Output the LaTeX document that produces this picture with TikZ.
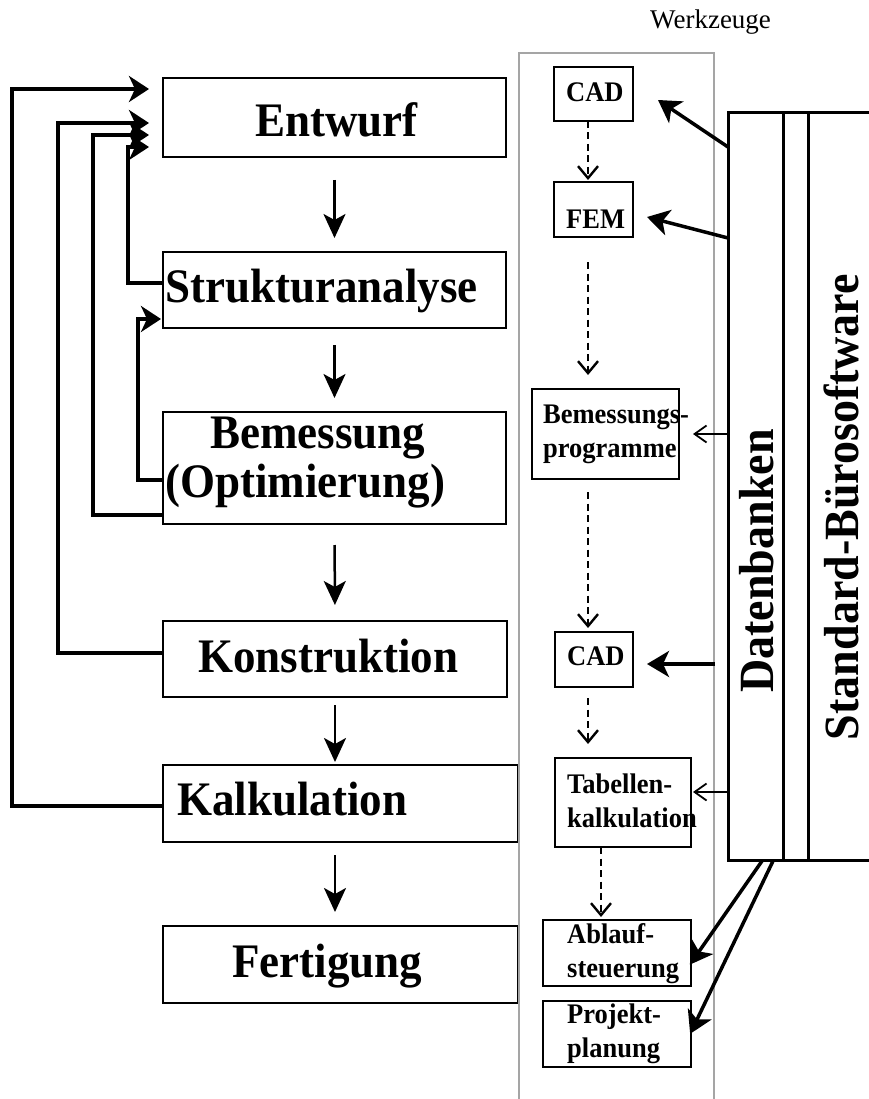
\documentclass[tikz,border=0pt]{standalone}
\usepackage{fontspec}
\setmainfont{Liberation Serif}
\usetikzlibrary{arrows.meta}
\definecolor{toolgray}{RGB}{165,165,165}
% slightly taller lettering
\newcommand{\tallbox}[1]{\scalebox{1}[1.07]{#1}}

\begin{document}
\begin{tikzpicture}[x=1pt, y=-1pt,
  stepbox/.style={draw=black, line width=1.3pt, inner sep=0pt, outer sep=0pt},
  toolbox/.style={draw=black, line width=1.3pt, inner sep=0pt, outer sep=0pt},
  dbbox/.style={draw=black, line width=3pt, inner sep=0pt, outer sep=0pt},
  bigtext/.style={font=\fontsize{45}{54}\selectfont\bfseries, inner sep=0pt, anchor=base west},
  smalltext/.style={font=\fontsize{26.5}{32}\selectfont\bfseries, inner sep=0pt, anchor=base west},
  sidetext/.style={font=\fontsize{46}{55}\selectfont\bfseries, inner sep=0pt, rotate=90, anchor=base},
  fb/.style={line width=4pt, -{Stealth[length=20pt, width=26pt, inset=6pt]}},
  downarrow/.style={line width=2.5pt, -{Stealth[length=24pt, width=22pt, inset=6pt]}},
  dasharrow/.style={line width=2.4pt, dash pattern=on 7pt off 4.5pt, -{Straight Barb[length=12pt, width=20pt, line width=2.4pt]}},
  thinarrow/.style={line width=1.4pt, -{Straight Barb[length=12pt, width=17pt, line width=1.8pt]}},
  thickarrow/.style={line width=3.5pt, -{Stealth[length=22pt, width=26pt, inset=6pt]}}]

\useasboundingbox (0,0) rectangle (869,1099);
\clip (0,0) rectangle (869,1099);

% process chain
\node[stepbox, minimum width=343pt, minimum height=79pt]  (entwurf) at (334.5,117.5) {};
\node[stepbox, minimum width=343pt, minimum height=76pt]  (struk)   at (334.5,290) {};
\node[stepbox, minimum width=343pt, minimum height=112pt] (bem)     at (334.5,468) {};
\node[stepbox, minimum width=344pt, minimum height=76pt]  (konstr)  at (335,659) {};
\node[stepbox, minimum width=355pt, minimum height=77pt]  (kalk)    at (340.5,803.5) {};
\node[stepbox, minimum width=355pt, minimum height=77pt]  (fert)    at (340.5,964.5) {};

\node[bigtext] (t-entwurf) at (255,137) {\tallbox{Entwurf}};
\node[bigtext] (t-struk)   at (165,302) {\tallbox{Strukturanalyse}};
\node[bigtext] (t-bem1)    at (210,448) {\tallbox{Bemessung}};
\node[bigtext] (t-bem2)    at (165,497) {\tallbox{(Optimierung)}};
\node[bigtext] (t-konstr)  at (198,672) {\tallbox{Konstruktion}};
\node[bigtext] (t-kalk)    at (177,815) {\tallbox{Kalkulation}};
\node[bigtext] (t-fert)    at (232,977) {\tallbox{Fertigung}};

% tool column
\node[draw=toolgray, line width=1.3pt, inner sep=0pt, minimum width=195pt, minimum height=1057pt] (tools) at (616.5,581.5) {};
\node[font=\fontsize{27}{32}\selectfont, inner sep=0pt, anchor=base west] (werkzeuge) at (650,29) {Werkzeuge};

\node[toolbox, minimum width=79pt,  minimum height=54pt] (cad1)    at (593.5,94) {};
\node[toolbox, minimum width=79pt,  minimum height=55pt] (fem)     at (593.5,209.5) {};
\node[toolbox, minimum width=147pt, minimum height=90pt] (bemprog) at (605.5,434) {};
\node[toolbox, minimum width=78pt,  minimum height=55pt] (cad2)    at (594,659.5) {};
\node[toolbox, minimum width=136pt, minimum height=89pt] (tab)     at (623,802.5) {};
\node[toolbox, minimum width=148pt, minimum height=66pt] (ablauf)  at (617,953) {};
\node[toolbox, minimum width=148pt, minimum height=66pt] (projekt) at (617,1034) {};

\node[smalltext] (t-cad1)  at (566,102) {\tallbox{CAD}};
\node[smalltext] (t-fem)   at (566,229) {\tallbox{FEM}};
\node[smalltext] (t-bp1)   at (543,423) {\tallbox{Bemessungs-}};
\node[smalltext] (t-bp2)   at (543,457) {\tallbox{programme}};
\node[smalltext] (t-cad2)  at (567,665) {\tallbox{CAD}};
\node[smalltext] (t-tab1)  at (567,793) {\tallbox{Tabellen-}};
\node[smalltext] (t-tab2)  at (567,827) {\tallbox{kalkulation}};
\node[smalltext] (t-abl1)  at (567,943) {\tallbox{Ablauf-}};
\node[smalltext] (t-abl2)  at (567,977) {\tallbox{steuerung}};
\node[smalltext] (t-proj1) at (567,1023) {\tallbox{Projekt-}};
\node[smalltext] (t-proj2) at (567,1057) {\tallbox{planung}};

% data bases and office software
\node[dbbox, minimum width=55pt, minimum height=747pt] (db) at (755.5,486.5) {};
\node[dbbox, minimum width=72pt, minimum height=747pt] (sb) at (844,486.5) {};
\draw[line width=3pt] (db.north east) -- (sb.north west);
\draw[line width=3pt] (db.south east) -- (sb.south west);
\node[sidetext] (t-db) at (773,561) {\tallbox{Datenbanken}};
\node[sidetext] (t-sb) at (858,507) {\tallbox{Standard-Bürosoftware}};

% feedback loops back to the design stage
\draw[fb, shorten >=14pt] (kalk.west |- 0,806) -| (12,89) -- (entwurf.west |- 0,89);
\draw[fb, shorten >=14pt] (konstr.west |- 0,653) -| (58,123) -- (entwurf.west |- 0,123);
\draw[fb, shorten >=14pt] (bem.west |- 0,515) -| (93,135) -- (entwurf.west |- 0,135);
\draw[fb, shorten >=14pt] (struk.west |- 0,283) -| (128,147) -- (entwurf.west |- 0,147);
\draw[fb, shorten >=2pt] (bem.west |- 0,480) -| (138,319) -- (struk.west |- 0,319);

% main sequence
\draw[downarrow, shorten <=23pt, shorten >=14pt] (entwurf.south) -- (struk.north);
\draw[downarrow, shorten <=17pt, shorten >=14pt] (struk.south) -- (bem.north);
\draw[downarrow, shorten <=21pt, shorten >=16pt] (bem.south) -- (konstr.north);
\draw[downarrow, shorten <=8pt, shorten >=3pt] (konstr.south) -- (konstr.south |- kalk.north);
\draw[downarrow, shorten <=13pt, shorten >=14pt] (kalk.south -| konstr.south) -- (konstr.south |- fert.north);

% tool sequence
\coordinate (dx) at (588,0);
\coordinate (dx2) at (601,0);
\draw[dasharrow, shorten >=2pt] (cad1.south -| dx) -- (fem.north -| dx);
\draw[dasharrow, shorten <=25pt, shorten >=14pt] (fem.south -| dx) -- (bemprog.north -| dx);
\draw[dasharrow, shorten <=13pt, shorten >=4pt] (bemprog.south -| dx) -- (cad2.north -| dx);
\draw[dasharrow, shorten <=11pt, shorten >=14pt] (cad2.south -| dx) -- (tab.north -| dx);
\draw[dasharrow, shorten >=3pt] (tab.south -| dx2) -- (ablauf.north -| dx2);

% supply from the data bases
\coordinate (s-cad2) at (715,664);
\coordinate (s-abl) at (762,861);
\coordinate (s-proj) at (773,861);
\coordinate (h-cad1) at (658,100);
\coordinate (h-fem) at (647,217);
\draw[thickarrow] (db.west |- 0,147) -- (h-cad1);
\draw[thickarrow] (db.west |- 0,238) -- (h-fem);
\draw[thickarrow, shorten >=14pt] (s-cad2) -- (cad2.east |- s-cad2);
\draw[thinarrow, shorten >=14pt] (db.west |- bemprog.east) -- (bemprog.east);
\draw[thinarrow, shorten >=2pt] (db.west |- 0,792) -- (tab.east |- 0,792);
\draw[thickarrow, shorten >=-2pt] (s-abl) -- (ablauf.east |- 0,963);
\draw[thickarrow, shorten >=-2pt] (s-proj) -- (projekt.east |- 0,1032);

\end{tikzpicture}
\end{document}
